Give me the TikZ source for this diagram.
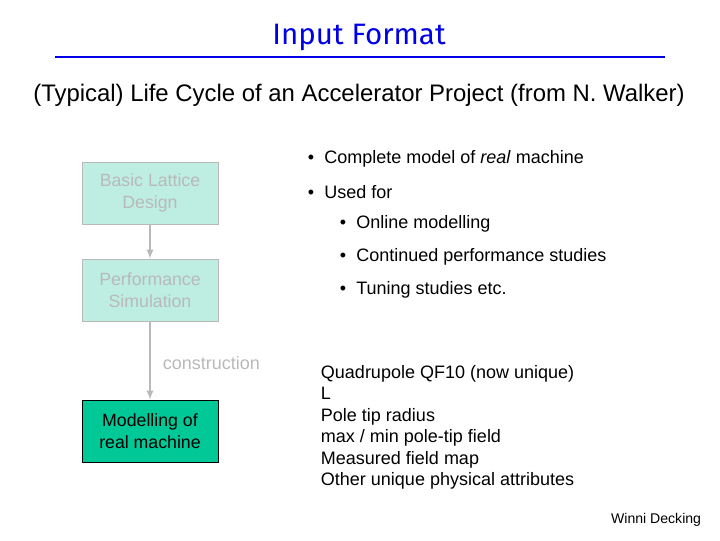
\documentclass[tikz,border=0pt]{standalone}
\usepackage{fontspec}
\setmainfont{Liberation Sans}
\newfontfamily\titlefont{Fira Sans}
\definecolor{pale}{RGB}{190,238,226}
\definecolor{palegrey}{RGB}{185,185,185}
\definecolor{deepteal}{RGB}{0,200,150}
\definecolor{titleblue}{RGB}{0,0,230}
\tikzset{
  stage/.style={draw=palegrey, fill=pale, text=palegrey, minimum width=3.4cm, minimum height=1.55cm, align=center, font=\fontsize{12.6}{15.5}\selectfont},
  flow/.style={draw=palegrey, line width=1.2pt, -latex},
  txt/.style={anchor=west, font=\fontsize{12.8}{15}\selectfont},
}
\begin{document}
\begin{tikzpicture}[x=0.025cm, y=-0.025cm]
  \useasboundingbox (0,0) rectangle (720,540);
  \node[titleblue, font=\titlefont\fontsize{21}{24}\selectfont] (title) at (359,37) {Input Format};
  \draw[titleblue, line width=1.2pt] (55,57) -- (665,57);
  \node[font=\fontsize{17}{20}\selectfont] (sub) at (359,95) {(Typical) Life Cycle of an Accelerator Project (from N. Walker)};

  \node[stage] (basic) at (150,193) {Basic Lattice\\Design};
  \node[stage] (perf) at (150,290) {Performance\\Simulation};
  \node[stage, draw=black, fill=deepteal, text=black] (model) at (150,431) {Modelling of\\real machine};
  \draw[flow] (basic) -- (perf);
  \draw[flow] (perf) -- (model);
  \node[txt, text=palegrey] (cons) at (158,363) {construction};

  \node[txt] (b1) at (303,159) {\textbullet\ \ Complete model of \textit{real} machine};
  \node[txt] (b2) at (303,192) {\textbullet\ \ Used for};
  \node[txt] (b3) at (335,224) {\textbullet\ \ Online modelling};
  \node[txt] (b4) at (335,257) {\textbullet\ \ Continued performance studies};
  \node[txt] (b5) at (335,290) {\textbullet\ \ Tuning studies etc.};

  \node[txt, align=left, anchor=north west, font=\fontsize{12.8}{15.3}\selectfont] (quad) at (316,360)
    {Quadrupole QF10 (now unique)\\L\\Pole tip radius\\max / min pole-tip field\\Measured field map\\Other unique physical attributes};
  \node[anchor=east, font=\fontsize{10}{12}\selectfont] (author) at (706,520) {Winni Decking};
\end{tikzpicture}
\end{document}
